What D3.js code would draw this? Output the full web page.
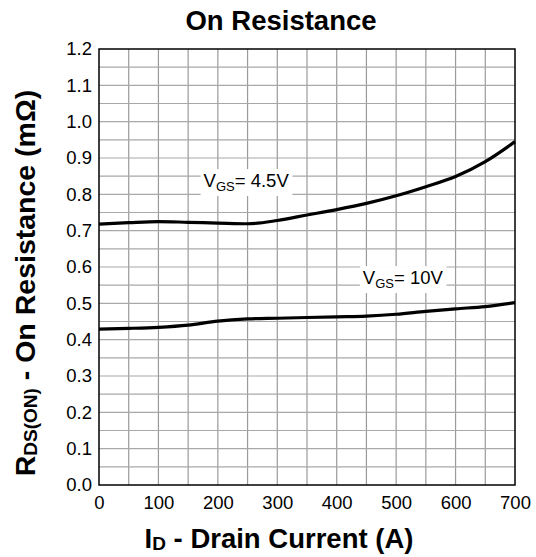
<!DOCTYPE html>
<html>
<head>
<meta charset="utf-8">
<script src="https://cdn.jsdelivr.net/npm/d3@7"></script>
<style>
   body { margin: 0; background: #fff; }
   #chart { width: 536px; height: 557px; }
   text { font-family: "Liberation Sans", Arial, sans-serif; fill: #000; }
</style>
</head>
<body>
<div id="chart"></div>
<script>
// Drain current (A) and on resistance (mOhm)
const drainCurrent = [0, 50, 100, 150, 200, 250, 300, 350, 400, 450, 500, 550, 600, 650, 700];
const rdsVgs45 = [0.718, 0.722, 0.725, 0.723, 0.721, 0.719, 0.728, 0.743, 0.758, 0.775, 0.796, 0.821, 0.849, 0.890, 0.945];
const rdsVgs10 = [0.429, 0.431, 0.434, 0.440, 0.451, 0.457, 0.459, 0.461, 0.463, 0.465, 0.470, 0.478, 0.485, 0.491, 0.502];
const xTicks = [0, 100, 200, 300, 400, 500, 600, 700];
const yTicks = [0.0, 0.1, 0.2, 0.3, 0.4, 0.5, 0.6, 0.7, 0.8, 0.9, 1.0, 1.1, 1.2];
const seriesLabels = [
   { main: "V", sub: "GS", rest: "= 4.5V", at: [176, 0.82] },
   { main: "V", sub: "GS", rest: "= 10V", at: [444, 0.553] }
];

const margin = { top: 49, right: 21, bottom: 72, left: 99 };
const width = 536 - margin.left - margin.right;
const height = 557 - margin.top - margin.bottom;

const svg = d3.select("#chart").append("svg")
   .attr("width", 536)
   .attr("height", 557);

const g = svg.append("g")
   .attr("transform", "translate(" + margin.left + "," + margin.top + ")");

const x = d3.scaleLinear().domain([0, 700]).range([0, width]);
const y = d3.scaleLinear().domain([0, 1.2]).range([height, 0]);

// Grid every 50 A and every 0.05 mOhm
g.append("g")
   .attr("class", "grid-x")
   .selectAll("line")
   .data(d3.range(50, 700, 50))
   .join("line")
   .attr("x1", d => x(d)).attr("x2", d => x(d))
   .attr("y1", 0).attr("y2", height)
   .attr("stroke", "#9a9a9a")
   .attr("stroke-width", 1.2);

g.append("g")
   .attr("class", "grid-y")
   .selectAll("line")
   .data(d3.range(1, 24).map(i => i * 0.05))
   .join("line")
   .attr("x1", 0).attr("x2", width)
   .attr("y1", d => y(d)).attr("y2", d => y(d))
   .attr("stroke", "#a8a8a8")
   .attr("stroke-width", 1.2);

// Frame
g.append("rect")
   .attr("width", width)
   .attr("height", height)
   .attr("fill", "none")
   .attr("stroke", "#000")
   .attr("stroke-width", 1.5);

// Axes (ticks only as labels)
const xAxis = d3.axisBottom(x).tickValues(xTicks).tickSize(0).tickPadding(11).tickFormat(d3.format("d"));
const yAxis = d3.axisLeft(y).tickValues(yTicks).tickSize(0).tickPadding(7).tickFormat(d3.format(".1f"));

g.append("g")
   .attr("transform", "translate(0," + height + ")")
   .call(xAxis)
   .call(a => a.select(".domain").remove())
   .selectAll("text")
   .attr("font-size", 18.5)
   .attr("font-family", "Liberation Sans, Arial, sans-serif");

g.append("g")
   .call(yAxis)
   .call(a => a.select(".domain").remove())
   .selectAll("text")
   .attr("font-size", 18.5)
   .attr("font-family", "Liberation Sans, Arial, sans-serif");

// Curves
const line = d3.line()
   .x((d, i) => x(drainCurrent[i]))
   .y(d => y(d))
   .curve(d3.curveMonotoneX);

[rdsVgs45, rdsVgs10].forEach(series => {
   g.append("path")
      .datum(series)
      .attr("d", line)
      .attr("fill", "none")
      .attr("stroke", "#000")
      .attr("stroke-width", 3.2);
});

// Series labels with white backing
seriesLabels.forEach(lbl => {
   const lg = g.append("g");
   const t = lg.append("text")
      .attr("x", x(lbl.at[0]))
      .attr("y", y(lbl.at[1]))
      .attr("font-size", 18.5);
   t.append("tspan").text(lbl.main);
   t.append("tspan").attr("font-size", 13).attr("dy", 4).text(lbl.sub);
   t.append("tspan").attr("dy", -4).text(lbl.rest);
   const bb = t.node().getBBox();
   lg.insert("rect", "text")
      .attr("x", bb.x - 3)
      .attr("y", bb.y - 1)
      .attr("width", bb.width + 6)
      .attr("height", bb.height + 3)
      .attr("fill", "#fff");
});

// Title
svg.append("text")
   .attr("x", 281)
   .attr("y", 30)
   .attr("text-anchor", "middle")
   .attr("font-size", 27.5)
   .attr("font-weight", "bold")
   .text("On Resistance");

// X axis label
const xl = svg.append("text")
   .attr("x", 279)
   .attr("y", 548)
   .attr("text-anchor", "middle")
   .attr("font-size", 27.5)
   .attr("font-weight", "bold");
xl.append("tspan").text("I");
xl.append("tspan").attr("font-size", 19).attr("dy", 2).text("D");
xl.append("tspan").attr("dy", -2).text(" - Drain Current (A)");

// Y axis label
const yl = svg.append("text")
   .attr("transform", "translate(35,283) rotate(-90)")
   .attr("text-anchor", "middle")
   .attr("font-size", 28.5)
   .attr("font-weight", "bold");
yl.append("tspan").text("R");
yl.append("tspan").attr("font-size", 19).attr("dy", 2).text("DS(ON)");
yl.append("tspan").attr("dy", -2).text(" - On Resistance (mΩ)");
</script>
</body>
</html>
